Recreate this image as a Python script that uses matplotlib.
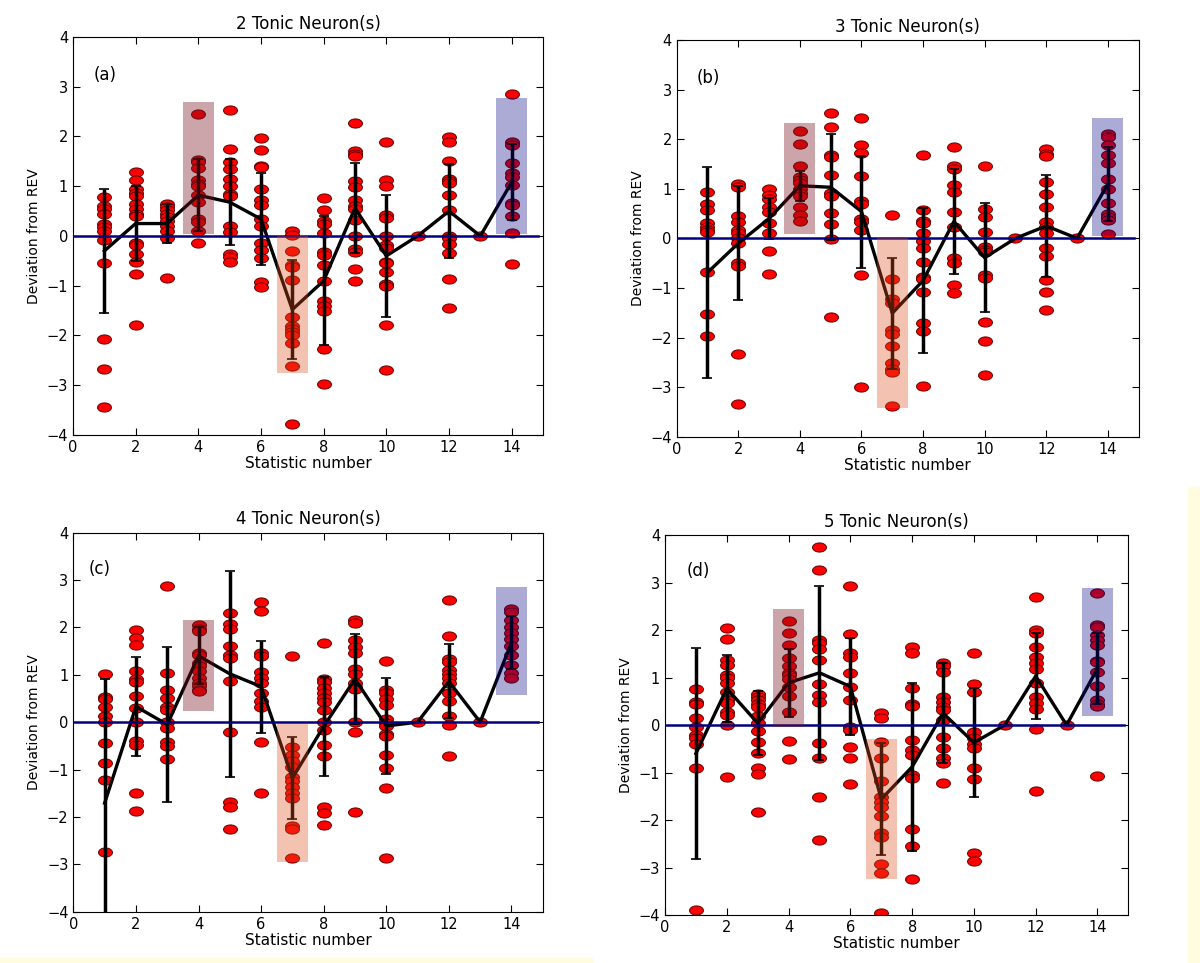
import numpy as np
import matplotlib
matplotlib.use('Agg')
import matplotlib.pyplot as plt
from matplotlib.path import Path
from matplotlib.patches import Rectangle

stats = list(range(1, 15))
titles = ['2 Tonic Neuron(s)', '3 Tonic Neuron(s)', '4 Tonic Neuron(s)', '5 Tonic Neuron(s)']
panel_tags = ['(a)', '(b)', '(c)', '(d)']

# --- panel (a): 2 tonic neurons
mean_a = [-0.3, 0.25, 0.25, 0.82, 0.68, 0.34, -1.48, -0.9, 0.56, -0.4, 0.0, 0.5, 0.0, 1.08]
err_a = [1.25, 0.75, 0.4, 0.72, 0.87, 0.93, 1.0, 1.3, 0.9, 1.23, 0.0, 0.95, 0.0, 0.76]
pts_a = [
    [0.78, 0.6, 0.55, 0.45, 0.25, 0.18, 0.1, -0.08, -0.55, -2.08, -2.68, -3.44],
    [1.28, 1.12, 0.95, 0.87, 0.81, 0.65, 0.55, 0.45, 0.4, -0.15, -0.19, -0.36, -0.52, -0.76, -1.79],
    [0.65, 0.58, 0.52, 0.45, 0.38, 0.31, 0.21, 0.11, -0.05, -0.85],
    [2.45, 1.52, 1.48, 1.37, 1.12, 1.05, 1.0, 0.82, 0.68, 0.35, 0.28, 0.11, -0.14],
    [2.54, 1.74, 1.48, 1.34, 1.15, 1.0, 0.85, 0.8, 0.21, 0.08, -0.36, -0.42, -0.52],
    [1.96, 1.72, 1.41, 1.39, 0.95, 0.72, 0.63, 0.35, 0.21, -0.15, -0.29, -0.44, -0.93, -1.03],
    [0.11, 0.01, -0.31, -0.58, -0.62, -0.89, -1.63, -1.8, -1.87, -1.93, -2.0, -2.15, -2.62, -3.77],
    [0.77, 0.52, 0.3, 0.25, 0.05, -0.32, -0.38, -0.59, -0.91, -1.3, -1.4, -1.5, -2.28, -2.97],
    [2.28, 1.7, 1.64, 1.6, 1.1, 0.99, 0.73, 0.6, 0.54, 0.32, 0.0, -0.27, -0.32, -0.66, -0.91],
    [1.89, 1.12, 1.0, 0.42, 0.36, 0.0, -0.19, -0.24, -0.52, -0.55, -0.72, -0.96, -1.0, -1.79, -2.7],
    [0.0],
    [1.99, 1.89, 1.5, 1.15, 1.1, 1.07, 0.83, 0.53, 0.0, -0.04, -0.17, -0.34, -0.86, -1.45],
    [0.0],
    [2.85, 1.89, 1.83, 1.46, 1.26, 1.19, 1.03, 0.67, 0.63, 0.4, 0.05, -0.56],
]
boxes_a = [(4, 0.03, 2.7), (7, -2.75, 0.0), (14, 0.03, 2.77)]

# --- panel (b): 3 tonic neurons
mean_b = [-0.69, -0.1, 0.4, 1.06, 1.03, 0.54, -1.51, -0.85, 0.34, -0.39, 0.0, 0.25, 0.0, 1.1]
err_b = [2.13, 1.15, 0.42, 0.3, 1.07, 1.13, 1.12, 1.46, 1.05, 1.1, 0.0, 1.03, 0.0, 0.75]
pts_b = [
    [0.94, 0.7, 0.57, 0.3, 0.23, 0.17, 0.13, -0.67, -1.52, -1.97],
    [1.09, 1.04, 0.45, 0.32, 0.17, 0.1, 0.0, -0.1, -0.49, -0.56, -2.33, -3.34],
    [0.99, 0.87, 0.8, 0.64, 0.54, 0.3, 0.11, -0.26, -0.72],
    [2.17, 1.91, 1.46, 1.24, 1.17, 1.11, 1.0, 0.91, 0.85, 0.64, 0.47, 0.34],
    [2.52, 2.25, 1.68, 1.64, 1.28, 0.91, 0.85, 0.52, 0.29, -0.02, -1.59],
    [2.43, 1.89, 1.72, 1.26, 0.76, 0.7, 0.4, 0.32, 0.17, -0.74, -2.99],
    [0.48, -0.81, -1.23, -1.31, -1.85, -1.93, -2.17, -2.52, -2.64, -2.7, -3.39],
    [1.68, 0.57, 0.34, 0.3, 0.11, -0.05, -0.2, -0.47, -0.77, -0.82, -1.09, -1.71, -1.86, -2.97],
    [1.85, 1.46, 1.39, 1.07, 0.93, 0.54, 0.22, -0.4, -0.5, -0.94, -1.11],
    [1.46, 0.6, 0.44, 0.13, -0.17, -0.23, -0.28, -0.74, -0.8, -1.69, -2.08, -2.75],
    [0.0],
    [1.81, 1.71, 1.66, 1.14, 0.89, 0.64, 0.32, 0.23, 0.1, -0.2, -0.36, -0.84, -1.09, -1.44],
    [0.0],
    [2.11, 2.05, 1.89, 1.68, 1.51, 1.19, 1.0, 0.72, 0.5, 0.44, 0.37, 0.09],
]
boxes_b = [(4, 0.08, 2.33), (7, -3.42, 0.0), (14, 0.05, 2.42)]

# --- panel (c): 4 tonic neurons
mean_c = [-1.71, 0.33, -0.05, 1.4, 1.02, 0.75, -1.18, -0.09, 0.91, -0.08, 0.0, 0.86, 0.0, 1.68]
err_c = [2.62, 1.04, 1.64, 0.6, 2.17, 0.97, 0.87, 1.05, 0.95, 1.02, 0.0, 0.78, 0.0, 0.55]
pts_c = [
    [1.01, 0.54, 0.49, 0.32, 0.13, 0.01, -0.44, -0.87, -1.22, -2.75],
    [1.94, 1.77, 1.63, 1.08, 0.91, 0.84, 0.56, 0.3, 0.01, -0.39, -0.48, -1.5, -1.87],
    [2.87, 1.04, 0.68, 0.51, 0.32, 0.26, 0.01, -0.13, -0.41, -0.51, -0.78],
    [2.04, 1.96, 1.92, 1.47, 1.42, 1.25, 1.18, 1.08, 0.93, 0.82, 0.77, 0.68, 0.65],
    [2.3, 2.08, 1.96, 1.61, 1.42, 1.35, 0.86, -0.2, -1.68, -1.8, -2.26],
    [2.53, 2.34, 1.46, 1.39, 1.05, 0.93, 0.82, 0.61, 0.44, 0.33, -0.41, -1.5],
    [1.4, -0.53, -0.69, -0.83, -0.94, -1.16, -1.25, -1.36, -1.5, -1.61, -2.2, -2.26, -2.86],
    [1.68, 0.91, 0.84, 0.72, 0.61, 0.51, 0.42, 0.25, 0.01, -0.16, -0.48, -0.71, -1.8, -1.92, -2.17],
    [2.15, 2.09, 1.73, 1.58, 1.47, 1.12, 1.02, 0.82, 0.75, 0.7, 0.01, -0.21, -1.89],
    [1.3, 0.68, 0.61, 0.49, 0.37, 0.06, -0.02, -0.08, -0.25, -0.3, -0.69, -0.97, -1.38, -2.86],
    [0.0],
    [2.57, 1.81, 1.33, 1.28, 1.11, 1.02, 0.93, 0.82, 0.61, 0.44, 0.13, -0.07, -0.71],
    [0.0],
    [2.39, 2.32, 2.16, 2.01, 1.88, 1.75, 1.61, 1.42, 1.21, 1.04, 0.93],
]
boxes_c = [(4, 0.23, 2.16), (7, -2.96, -0.03), (14, 0.58, 2.85)]

# --- panel (d): 5 tonic neurons
mean_d = [-0.6, 0.77, 0.04, 0.89, 1.1, 0.81, -1.56, -0.88, 0.25, -0.37, 0.0, 1.03, 0.0, 1.19]
err_d = [2.23, 0.7, 0.68, 0.72, 1.83, 1.03, 1.18, 1.77, 1.05, 1.15, 0.0, 0.9, 0.0, 0.75]
pts_d = [
    [0.75, 0.49, 0.44, 0.14, -0.05, -0.21, -0.28, -0.4, -0.91, -3.89],
    [2.04, 1.81, 1.37, 1.26, 1.05, 1.0, 0.88, 0.7, 0.53, 0.47, 0.28, 0.22, 0.0, -1.1],
    [0.65, 0.58, 0.53, 0.44, 0.37, 0.19, 0.05, -0.13, -0.35, -0.58, -0.91, -1.03, -1.84],
    [2.18, 1.93, 1.68, 1.42, 1.25, 1.1, 1.05, 0.96, 0.81, 0.61, 0.28, -0.34, -0.72],
    [3.75, 3.26, 1.8, 1.73, 1.61, 1.37, 0.86, 0.63, 0.48, -0.37, -0.69, -1.51, -2.42],
    [2.93, 1.92, 1.51, 1.44, 1.09, 0.81, 0.53, -0.04, -0.1, -0.46, -0.7, -1.24],
    [0.26, 0.14, -0.35, -0.7, -1.17, -1.51, -1.61, -1.73, -1.91, -2.27, -2.36, -2.93, -3.12, -3.95],
    [1.65, 1.51, 0.79, 0.44, 0.4, -0.32, -0.53, -0.63, -1.05, -1.12, -2.18, -2.55, -3.24],
    [1.31, 1.24, 1.12, 0.6, 0.49, 0.39, 0.32, 0.11, -0.26, -0.49, -0.7, -0.79, -1.21],
    [1.52, 0.86, 0.7, -0.15, -0.28, -0.39, -0.49, -0.91, -1.14, -2.7, -2.86],
    [0.0],
    [2.69, 2.0, 1.93, 1.65, 1.44, 1.31, 1.19, 0.89, 0.6, 0.47, 0.33, -0.09, -1.38],
    [0.0],
    [2.77, 2.11, 2.07, 1.89, 1.79, 1.68, 1.35, 1.32, 1.11, 0.82, 0.53, 0.44, 0.4, -1.07],
]
boxes_d = [(4, -0.05, 2.44), (7, -3.25, -0.29), (14, 0.18, 2.89)]

panels = [
    (mean_a, err_a, pts_a, boxes_a),
    (mean_b, err_b, pts_b, boxes_b),
    (mean_c, err_c, pts_c, boxes_c),
    (mean_d, err_d, pts_d, boxes_d),
]

# axes rectangles in figure fractions [left, bottom, width, height]
rects = [
    [0.0608, 0.5483, 0.3917, 0.4133],
    [0.5639, 0.5465, 0.3850, 0.4120],
    [0.0611, 0.0533, 0.3912, 0.3936],
    [0.5542, 0.0498, 0.3861, 0.3946],
]
tag_x = [0.045, 0.043, 0.032, 0.047]
box_colors = ['#7a1420', '#e0501e', '#000080']
box_alpha = [0.38, 0.35, 0.33]

# squashed ellipse marker like the original
t = np.linspace(0, 2 * np.pi, 60)
ellipse = Path(np.column_stack([np.cos(t), 0.66 * np.sin(t)]), closed=True)

fig = plt.figure(figsize=(12, 9.63), dpi=100)
# pale yellow screenshot edges
fig.patches.append(Rectangle((0.99, 0.0), 0.01, 0.494, transform=fig.transFigure,
                             facecolor='#fffce0', edgecolor='none', zorder=-1))
fig.patches.append(Rectangle((0.0, 0.0), 0.495, 0.006, transform=fig.transFigure,
                             facecolor='#fffce0', edgecolor='none', zorder=-1))

for i, (means, errs, pts, boxes) in enumerate(panels):
    ax = fig.add_axes(rects[i])
    for s, vals in zip(stats, pts):
        ax.plot(np.full(len(vals), s), vals, linestyle='none', marker=ellipse,
                markersize=10, markerfacecolor='#ff0000', markeredgecolor='#600000',
                markeredgewidth=0.7, zorder=2)
    ax.errorbar(stats, means, yerr=errs, fmt='-', color='black', lw=2.4,
                elinewidth=2.5, capsize=3.5, capthick=1.2, zorder=3)
    ax.plot([0, 14.85], [0, 0], color='#000080', lw=1.8, zorder=4)
    for j, (s, lo, hi) in enumerate(boxes):
        ax.add_patch(Rectangle((s - 0.5, lo), 1.0, hi - lo, facecolor=box_colors[j],
                               alpha=box_alpha[j], edgecolor='none', zorder=5))
    ax.set_xlim(0, 15)
    ax.set_ylim(-4, 4)
    ax.set_xticks(range(0, 15, 2))
    ax.set_yticks(range(-4, 5))
    ax.tick_params(direction='in', top=True, right=True, length=5, labelsize=10.5)
    ax.set_title(titles[i], fontsize=12)
    ax.set_xlabel('Statistic number', fontsize=11, labelpad=1)
    ax.set_ylabel('Deviation from REV', fontsize=10)
    ax.text(tag_x[i], 0.905, panel_tags[i], transform=ax.transAxes,
            fontsize=12, ha='left', va='center')

fig.savefig('out.png', dpi=100)
